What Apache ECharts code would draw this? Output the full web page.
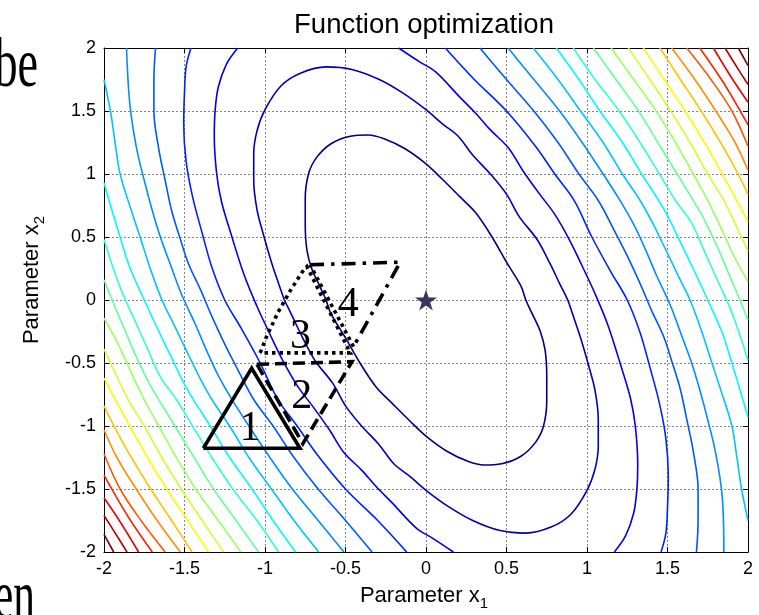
<!DOCTYPE html>
<html>
<head>
<meta charset="utf-8">
<script src="https://cdn.jsdelivr.net/npm/echarts@6/dist/echarts.min.js"></script>
<style>
html, body { margin: 0; padding: 0; background: #fff; }
#main { width: 759px; height: 615px; }
</style>
</head>
<body>
<div id="main"></div>
<script>
// contour colours, innermost (1) to outermost (20)
var levelColors = ['#000080', '#0000B5', '#0000EB', '#0022FF', '#0057FF', '#008DFF', '#00C3FF', '#00F8FF', '#2FFFD0', '#65FF9A',
                   '#9AFF65', '#D0FF2F', '#FFF800', '#FFC300', '#FF8D00', '#FF5700', '#FF2200', '#EB0000', '#B50000', '#800000'];

// contour lines, one list of pieces per level
var level1 = [[[-0.62,0],[-0.66,0.11],[-0.71,0.25],[-0.74,0.4],[-0.75,0.6],[-0.75,0.8],[-0.73,1.0],[-0.68,1.13],[-0.59,1.24],[-0.47,1.3],[-0.36,1.31],[-0.26,1.28],[-0.13,1.2],[0,1.08],[0.1,0.96],[0.21,0.82],[0.31,0.69],[0.41,0.5],[0.5,0.3],[0.59,0.11],[0.62,0],[0.66,-0.11],[0.71,-0.25],[0.74,-0.4],[0.75,-0.6],[0.75,-0.8],[0.73,-1.0],[0.68,-1.13],[0.59,-1.24],[0.47,-1.3],[0.36,-1.31],[0.26,-1.28],[0.13,-1.2],[0,-1.08],[-0.1,-0.96],[-0.21,-0.82],[-0.31,-0.69],[-0.41,-0.5],[-0.5,-0.3],[-0.59,-0.11],[-0.62,0]]];
var level2 = [[[-0.88,0],[-0.91,0.11],[-0.96,0.3],[-1.01,0.52],[-1.05,0.72],[-1.07,0.95],[-1.07,1.16],[-1.05,1.34],[-1.0,1.51],[-0.9,1.7],[-0.78,1.8],[-0.62,1.85],[-0.46,1.83],[-0.29,1.75],[-0.14,1.64],[0,1.51],[0.1,1.4],[0.2,1.3],[0.29,1.15],[0.4,1.0],[0.5,0.84],[0.58,0.66],[0.69,0.48],[0.77,0.29],[0.83,0.13],[0.88,0],[0.91,-0.11],[0.96,-0.3],[1.01,-0.52],[1.05,-0.72],[1.07,-0.95],[1.07,-1.16],[1.05,-1.34],[1.0,-1.51],[0.9,-1.7],[0.78,-1.8],[0.62,-1.85],[0.46,-1.83],[0.29,-1.75],[0.14,-1.64],[0,-1.51],[-0.1,-1.4],[-0.2,-1.3],[-0.29,-1.15],[-0.4,-1.0],[-0.5,-0.84],[-0.58,-0.66],[-0.69,-0.48],[-0.77,-0.29],[-0.83,-0.13],[-0.88,0]]];
var level3 = [
  [[-0.17,2],[-0.04,1.89],[0.06,1.81],[0.21,1.61],[0.31,1.48],[0.4,1.35],[0.51,1.21],[0.6,1.03],[0.7,0.85],[0.8,0.68],[0.89,0.48],[0.97,0.27],[1.05,0.05],[1.13,-0.2],[1.21,-0.52],[1.27,-0.78],[1.3,-1.0],[1.315,-1.3],[1.31,-1.5],[1.29,-1.69],[1.24,-1.87],[1.17,-2]],
  [[0.17,-2],[0.04,-1.89],[-0.06,-1.81],[-0.21,-1.61],[-0.31,-1.48],[-0.4,-1.35],[-0.51,-1.21],[-0.6,-1.03],[-0.7,-0.85],[-0.8,-0.68],[-0.89,-0.48],[-0.97,-0.27],[-1.05,-0.05],[-1.13,0.2],[-1.21,0.52],[-1.27,0.78],[-1.3,1.0],[-1.315,1.3],[-1.31,1.5],[-1.29,1.69],[-1.24,1.87],[-1.17,2]]
];
var level4 = [
  [[0.12,2],[0.3,1.75],[0.5,1.5],[0.68,1.22],[0.8,1.0],[0.92,0.79],[1.03,0.5],[1.15,0.22],[1.25,0],[1.33,-0.26],[1.39,-0.53],[1.45,-0.82],[1.49,-1.1],[1.505,-1.4],[1.5,-1.65],[1.49,-1.85],[1.46,-2]],
  [[-0.12,-2],[-0.3,-1.75],[-0.5,-1.5],[-0.68,-1.22],[-0.8,-1.0],[-0.92,-0.79],[-1.03,-0.5],[-1.15,-0.22],[-1.25,0],[-1.33,0.26],[-1.39,0.53],[-1.45,0.82],[-1.49,1.1],[-1.505,1.4],[-1.5,1.65],[-1.49,1.85],[-1.46,2]]
];
var level5 = [
  [[0.335,2],[0.5,1.75],[0.67,1.5],[0.82,1.25],[0.95,1.0],[1.07,0.79],[1.17,0.55],[1.25,0.35],[1.33,0.13],[1.4,-0.08],[1.476,-0.29],[1.53,-0.5],[1.58,-0.71],[1.62,-0.95],[1.66,-1.2],[1.69,-1.5],[1.69,-1.75],[1.68,-2]],
  [[-0.335,-2],[-0.5,-1.75],[-0.67,-1.5],[-0.82,-1.25],[-0.95,-1.0],[-1.07,-0.79],[-1.17,-0.55],[-1.25,-0.35],[-1.33,-0.13],[-1.4,0.08],[-1.476,0.29],[-1.53,0.5],[-1.58,0.71],[-1.62,0.95],[-1.66,1.2],[-1.69,1.5],[-1.69,1.75],[-1.68,2]]
];
var level6 = [
  [[0.51,2],[0.67,1.75],[0.83,1.5],[0.97,1.25],[1.1,1.0],[1.2,0.8],[1.29,0.6],[1.36,0.41],[1.43,0.2],[1.52,-0.05],[1.59,-0.29],[1.65,-0.5],[1.7,-0.71],[1.75,-0.95],[1.8,-1.22],[1.84,-1.56],[1.85,-2]],
  [[-0.51,-2],[-0.67,-1.75],[-0.83,-1.5],[-0.97,-1.25],[-1.1,-1.0],[-1.2,-0.8],[-1.29,-0.6],[-1.36,-0.41],[-1.43,-0.2],[-1.52,0.05],[-1.59,0.29],[-1.65,0.5],[-1.7,0.71],[-1.75,0.95],[-1.8,1.22],[-1.84,1.56],[-1.86,2]]
];
var level7 = [
  [[0.666,2],[0.82,1.75],[0.96,1.5],[1.1,1.25],[1.22,1.0],[1.33,0.79],[1.4,0.63],[1.47,0.45],[1.56,0.21],[1.64,0],[1.71,-0.24],[1.776,-0.5],[1.83,-0.71],[1.9,-1.0],[1.93,-1.24],[1.96,-1.5],[2.0,-1.75]],
  [[-0.666,-2],[-0.82,-1.75],[-0.96,-1.5],[-1.1,-1.25],[-1.22,-1.0],[-1.33,-0.79],[-1.4,-0.63],[-1.47,-0.45],[-1.56,-0.21],[-1.64,0],[-1.71,0.24],[-1.776,0.5],[-1.83,0.71],[-1.9,1.0],[-1.93,1.24],[-1.96,1.5],[-2.0,1.75]]
];
var level8 = [
  [[0.81,2],[0.95,1.75],[1.08,1.5],[1.22,1.25],[1.34,1.0],[1.44,0.8],[1.5,0.67],[1.58,0.46],[1.67,0.22],[1.75,0],[1.84,-0.26],[1.9,-0.5],[1.95,-0.71],[2.0,-0.93]],
  [[-0.81,-2],[-0.95,-1.75],[-1.08,-1.5],[-1.22,-1.25],[-1.34,-1.0],[-1.44,-0.8],[-1.5,-0.67],[-1.58,-0.46],[-1.67,-0.22],[-1.75,0],[-1.84,0.26],[-1.9,0.5],[-1.95,0.71],[-2.0,0.93]]
];
var level9 = [
  [[0.915,2],[1.05,1.75],[1.2,1.5],[1.33,1.25],[1.45,1.0],[1.55,0.79],[1.65,0.61],[1.735,0.37],[1.82,0.13],[1.9,-0.1],[1.96,-0.32],[2.0,-0.48]],
  [[-0.915,-2],[-1.05,-1.75],[-1.2,-1.5],[-1.33,-1.25],[-1.45,-1.0],[-1.55,-0.79],[-1.65,-0.61],[-1.735,-0.37],[-1.82,-0.13],[-1.9,0.1],[-1.96,0.32],[-2.0,0.48]]
];
var level10 = [
  [[1.04,2],[1.18,1.75],[1.32,1.5],[1.44,1.25],[1.56,1.0],[1.66,0.79],[1.72,0.66],[1.8,0.45],[1.88,0.21],[1.94,0.03],[2.0,-0.16]],
  [[-1.04,-2],[-1.18,-1.75],[-1.32,-1.5],[-1.44,-1.25],[-1.56,-1.0],[-1.66,-0.79],[-1.72,-0.66],[-1.8,-0.45],[-1.88,-0.21],[-1.94,-0.03],[-2.0,0.16]]
];
var level11 = [
  [[1.15,2],[1.29,1.75],[1.43,1.5],[1.55,1.25],[1.66,1.0],[1.75,0.79],[1.84,0.55],[1.92,0.33],[2.0,0.145]],
  [[-1.15,-2],[-1.29,-1.75],[-1.43,-1.5],[-1.55,-1.25],[-1.66,-1.0],[-1.75,-0.79],[-1.84,-0.55],[-1.92,-0.33],[-2.0,-0.145]]
];
var level12 = [
  [[1.257,2],[1.39,1.75],[1.52,1.5],[1.64,1.25],[1.75,1.0],[1.85,0.79],[1.93,0.58],[2.0,0.39]],
  [[-1.257,-2],[-1.39,-1.75],[-1.52,-1.5],[-1.64,-1.25],[-1.75,-1.0],[-1.85,-0.79],[-1.93,-0.58],[-2.0,-0.39]]
];
var level13 = [
  [[1.35,2],[1.48,1.75],[1.61,1.5],[1.73,1.25],[1.84,1.0],[1.93,0.79],[2.0,0.62]],
  [[-1.35,-2],[-1.48,-1.75],[-1.61,-1.5],[-1.73,-1.25],[-1.84,-1.0],[-1.93,-0.79],[-2.0,-0.62]]
];
var level14 = [
  [[1.453,2],[1.58,1.75],[1.71,1.5],[1.83,1.25],[1.93,1.02],[2.0,0.84]],
  [[-1.453,-2],[-1.58,-1.75],[-1.71,-1.5],[-1.83,-1.25],[-1.93,-1.02],[-2.0,-0.84]]
];
var level15 = [
  [[1.526,2],[1.67,1.75],[1.8,1.5],[1.92,1.25],[2.0,1.03]],
  [[-1.526,-2],[-1.67,-1.75],[-1.8,-1.5],[-1.92,-1.25],[-2.0,-1.03]]
];
var level16 = [
  [[1.62,2],[1.77,1.75],[1.9,1.5],[2.0,1.22]],
  [[-1.62,-2],[-1.77,-1.75],[-1.9,-1.5],[-2.0,-1.22]]
];
var level17 = [
  [[1.7,2],[1.85,1.72],[2.0,1.39]],
  [[-1.7,-2],[-1.85,-1.72],[-2.0,-1.39]]
];
var level18 = [
  [[1.785,2],[1.9,1.76],[2.0,1.57]],
  [[-1.785,-2],[-1.9,-1.76],[-2.0,-1.57]]
];
var level19 = [
  [[1.857,2],[1.94,1.83],[2.0,1.71]],
  [[-1.857,-2],[-1.94,-1.83],[-2.0,-1.71]]
];
var level20 = [
  [[1.94,2],[2.0,1.86]],
  [[-1.94,-2],[-2.0,-1.86]]
];

// simplex steps drawn over the contours
var simplex1 = [[-1.383,-1.177],[-1.083,-0.542],[-0.783,-1.177],[-1.383,-1.177]];
var simplex2 = [[-1.05,-0.51],[-0.46,-0.49],[-0.765,-1.14],[-1.05,-0.51]];
var simplex3 = [[-1.03,-0.42],[-0.99,-0.29],[-0.92,-0.1],[-0.84,0.08],[-0.77,0.22],[-0.74,0.265],[-0.47,-0.42],[-1.03,-0.42]];
var simplex4a = [[-0.72,0.28],[-0.16,0.3],[-0.45,-0.37]];
var simplex4b = [[-0.45,-0.37],[-0.72,0.28]];
var stepLabels = [['1',-1.093,-1.02],['2',-0.772,-0.767],['3',-0.78,-0.29],['4',-0.483,-0.04]];
var optimum = [[0, 0]];

var myChart = echarts.init(document.getElementById('main'));

var levels = [level1, level2, level3, level4, level5, level6, level7, level8, level9, level10,
              level11, level12, level13, level14, level15, level16, level17, level18, level19, level20];

var series = [];
levels.forEach(function (pieces, i) {
    pieces.forEach(function (pts) {
        series.push({
            type: 'line', data: pts, showSymbol: false, smooth: 0.35, silent: true, z: 2,
            lineStyle: { color: levelColors[i], width: 1.6 }
        });
    });
});

function simplexLine(pts, type) {
    return {
        type: 'line', data: pts, showSymbol: false, silent: true, z: 5,
        lineStyle: { color: '#000', width: 3.6, type: type, cap: 'butt', join: 'miter' }
    };
}
series.push(simplexLine(simplex1, 'solid'));
series.push(simplexLine(simplex2, [12, 6]));
series.push(simplexLine(simplex3, [3.5, 4]));
series.push(simplexLine(simplex4a, [14, 7, 3.5, 7]));
series.push(simplexLine(simplex4b, [3.5, 4]));

// step numbers
series.push({
    type: 'scatter', z: 6, silent: true, symbolSize: 0,
    itemStyle: { color: '#000', opacity: 1 },
    data: stepLabels.map(function (d) { return { name: d[0], value: [d[1], d[2]] }; }),
    label: { show: true, position: 'inside', formatter: '{b}', color: '#000', opacity: 1,
             fontFamily: 'Liberation Serif', fontSize: 42 }
});
// minimum
series.push({
    type: 'scatter', z: 6, silent: true, data: optimum, symbolSize: [22, 21],
    symbol: 'path://M50,0 L61.8,36.2 L100,36.2 L69.1,58.8 L80.9,95.1 L50,72.6 L19.1,95.1 L30.9,58.8 L0,36.2 L38.2,36.2 Z',
    itemStyle: { color: '#36365f', opacity: 1 }
});

var tickFont = { fontSize: 18, color: '#000', fontFamily: 'Liberation Sans' };
function axisBase(pos, showLabel) {
    return {
        type: 'value', min: -2, max: 2, interval: 0.5, position: pos,
        axisLine: { show: true, onZero: false, lineStyle: { color: '#000', width: 1 } },
        axisTick: { show: true, inside: true, length: 5, lineStyle: { color: '#000' } },
        axisLabel: Object.assign({ show: showLabel, margin: 8 }, tickFont),
        splitLine: { show: showLabel, lineStyle: { color: '#858585', type: [2, 2], width: 1 } }
    };
}

var option = {
    animation: false,
    backgroundColor: '#fff',
    grid: { left: 104, right: 11, top: 48, bottom: 63 },
    xAxis: [axisBase('bottom', true), axisBase('top', false)],
    yAxis: [axisBase('left', true), axisBase('right', false)],
    series: series,
    graphic: [
        { type: 'text', x: 424, y: 25, style: { text: 'Function optimization', fontSize: 27.5, fontFamily: 'Liberation Sans',
            fill: '#000', align: 'center', verticalAlign: 'middle' } },
        { type: 'text', x: 424, y: 596, style: { text: '{a|Parameter x}{b|1}', align: 'center', verticalAlign: 'middle',
            rich: { a: { fontSize: 22, fontFamily: 'Liberation Sans', fill: '#000' },
                    b: { fontSize: 15, fontFamily: 'Liberation Sans', fill: '#000', padding: [16, 0, 0, 0] } } } },
        { type: 'text', x: 32, y: 280, rotation: Math.PI / 2, style: { text: '{a|Parameter x}{b|2}', align: 'center', verticalAlign: 'middle',
            rich: { a: { fontSize: 22, fontFamily: 'Liberation Sans', fill: '#000' },
                    b: { fontSize: 15, fontFamily: 'Liberation Sans', fill: '#000', padding: [16, 0, 0, 0] } } } },
        // fragments of the surrounding page text
        { type: 'text', x: 38, y: 68, scaleX: 0.66, style: { text: 'be', fontSize: 70, fontFamily: 'Liberation Serif', fill: '#000',
            align: 'right', verticalAlign: 'middle' } },
        { type: 'text', x: 35, y: 600, scaleX: 0.62, style: { text: 'en', fontSize: 70, fontFamily: 'Liberation Serif', fill: '#000',
            align: 'right', verticalAlign: 'middle' } }
    ]
};

myChart.setOption(option);
</script>
</body>
</html>
